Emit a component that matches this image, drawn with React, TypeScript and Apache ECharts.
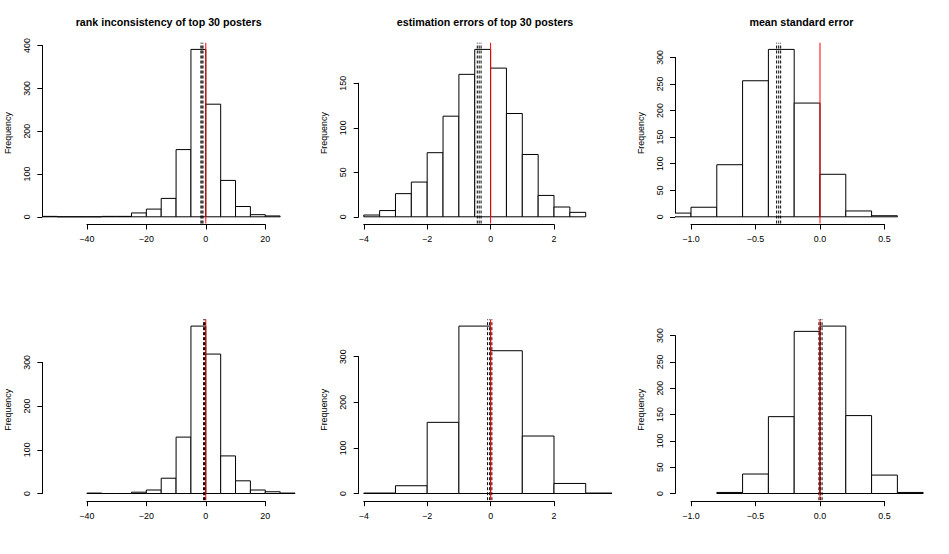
import React, { useEffect, useRef } from "react";
import * as echarts from "echarts";

// ---------- data ----------
const titles = ["rank inconsistency of top 30 posters", "estimation errors of top 30 posters", "mean standard error"];

const rankTopBreaks = [-55, -50, -45, -40, -35, -30, -25, -20, -15, -10, -5, 0, 5, 10, 15, 20, 25];
const rankTopCounts = [1, 0, 0, 0, 1, 1, 9, 18, 43, 157, 391, 263, 85, 24, 5, 2];
const estTopBreaks = [-4, -3.5, -3, -2.5, -2, -1.5, -1, -0.5, 0, 0.5, 1, 1.5, 2, 2.5, 3];
const estTopCounts = [2, 7, 26, 39, 72, 113, 160, 188, 167, 116, 70, 24, 11, 5];
const mseTopBreaks = [-1.2, -1.0, -0.8, -0.6, -0.4, -0.2, 0, 0.2, 0.4, 0.6];
const mseTopCounts = [7, 18, 98, 256, 315, 214, 80, 11, 2];

const rankBotBreaks = [-40, -35, -30, -25, -20, -15, -10, -5, 0, 5, 10, 15, 20, 25, 30];
const rankBotCounts = [1, 0, 0, 3, 8, 35, 129, 383, 319, 86, 29, 8, 4, 1];
const estBotBreaks = [-4, -3, -2, -1, 0, 1, 2, 3, 4];
const estBotCounts = [1, 17, 156, 367, 313, 126, 22, 1];
const mseBotBreaks = [-0.8, -0.6, -0.4, -0.2, 0, 0.2, 0.4, 0.6, 0.8];
const mseBotCounts = [2, 37, 146, 308, 318, 148, 35, 2];

// dashed reference lines (black) and the red reference value
const rankTopLines = [-1.65, -1.3, -0.95];
const estTopLines = [-0.42, -0.36, -0.3];
const mseTopLines = [-0.336, -0.32, -0.305];
const rankBotLines = [-0.75, -0.45, -0.15];
const estBotLines = [-0.095, -0.03, 0.04];
const mseBotLines = [-0.008, 0.004, 0.016];
const redValue = 0;

// axis ticks
const rankXTicks = [-40, -20, 0, 20];
const estXTicks = [-4, -2, 0, 2];
const mseXTicks = [-1.0, -0.5, 0.0, 0.5];
const rankTopYTicks = [0, 100, 200, 300, 400];
const estTopYTicks = [0, 50, 100, 150];
const mseTopYTicks = [0, 50, 100, 150, 200, 250, 300];
const rankBotYTicks = [0, 100, 200, 300];
const estBotYTicks = [0, 100, 200, 300];
const mseBotYTicks = [0, 50, 100, 150, 200, 250, 300];

// x limits of each column
const rankXLim = [-55, 30];
const estXLim = [-4.16, 3.81];
const mseXLim = [-1.124, 0.835];

// ---------- layout ----------
const colLeft = [42.3, 358.7, 675];
const plotW = 252.7;
const rowTop = [42.7, 319.4];
const plotH = 180.8;
const FONT = "'Liberation Sans', Arial, Helvetica, sans-serif";
const FS = 8.9;

type Panel = {
  row: number;
  col: number;
  breaks: number[];
  counts: number[];
  lines: number[];
  xTicks: number[];
  yTicks: number[];
  xLim: number[];
  decimals: number;
};

const panels: Panel[] = [
  { row: 0, col: 0, breaks: rankTopBreaks, counts: rankTopCounts, lines: rankTopLines, xTicks: rankXTicks, yTicks: rankTopYTicks, xLim: rankXLim, decimals: 0 },
  { row: 0, col: 1, breaks: estTopBreaks, counts: estTopCounts, lines: estTopLines, xTicks: estXTicks, yTicks: estTopYTicks, xLim: estXLim, decimals: 0 },
  { row: 0, col: 2, breaks: mseTopBreaks, counts: mseTopCounts, lines: mseTopLines, xTicks: mseXTicks, yTicks: mseTopYTicks, xLim: mseXLim, decimals: 1 },
  { row: 1, col: 0, breaks: rankBotBreaks, counts: rankBotCounts, lines: rankBotLines, xTicks: rankXTicks, yTicks: rankBotYTicks, xLim: rankXLim, decimals: 0 },
  { row: 1, col: 1, breaks: estBotBreaks, counts: estBotCounts, lines: estBotLines, xTicks: estXTicks, yTicks: estBotYTicks, xLim: estXLim, decimals: 0 },
  { row: 1, col: 2, breaks: mseBotBreaks, counts: mseBotCounts, lines: mseBotLines, xTicks: mseXTicks, yTicks: mseBotYTicks, xLim: mseXLim, decimals: 1 },
];

const fmt = (v: number, d: number) => {
  const s = d > 0 ? v.toFixed(d) : String(Math.round(v));
  return s.replace("-", "\u2212");
};

function buildOption() {
  const grid: any[] = [];
  const xAxis: any[] = [];
  const yAxis: any[] = [];
  const series: any[] = [];

  panels.forEach((p) => {
    const M = Math.max(...p.counts);
    const yMin = -0.04 * M;
    const yMax = 1.04 * M;
    const [xMin, xMax] = p.xLim;
    const left = colLeft[p.col];
    const top = rowTop[p.row];
    const pxX = (v: number) => left + (plotW * (v - xMin)) / (xMax - xMin);
    const pxY = (v: number) => top + (plotH * (yMax - v)) / (yMax - yMin);

    // main plot grid
    const gMain = grid.length;
    grid.push({ left, top, width: plotW, height: plotH });
    const xMainIdx = xAxis.length;
    xAxis.push({ gridIndex: gMain, type: "value", min: xMin, max: xMax, show: false });
    const yMainIdx = yAxis.length;
    yAxis.push({
      gridIndex: gMain,
      type: "value",
      min: yMin,
      max: yMax,
      axisLine: { show: false },
      axisTick: { show: false },
      axisLabel: { show: false },
      splitLine: { show: false },
      name: "Frequency",
      nameLocation: "middle",
      nameRotate: 90,
      nameGap: 30,
      nameTextStyle: { fontSize: FS, fontFamily: FONT, color: "#000" },
    });

    // x axis (R style: line spans first..last tick)
    const xf = p.xTicks[0];
    const xl = p.xTicks[p.xTicks.length - 1];
    const gX = grid.length;
    grid.push({ left: pxX(xf), width: pxX(xl) - pxX(xf), top: top + plotH, height: 1 });
    xAxis.push({
      gridIndex: gX,
      type: "value",
      min: xf,
      max: xl,
      interval: p.xTicks[1] - p.xTicks[0],
      position: "bottom",
      axisLine: { show: true, lineStyle: { color: "#000", width: 1 } },
      axisTick: { show: true, inside: false, length: 5, lineStyle: { color: "#000", width: 1 } },
      axisLabel: {
        show: true,
        margin: 10,
        fontSize: FS,
        fontFamily: FONT,
        color: "#000",
        showMinLabel: true,
        showMaxLabel: true,
        formatter: (v: number) => fmt(v, p.decimals),
      },
      splitLine: { show: false },
    });
    yAxis.push({ gridIndex: gX, type: "value", show: false, min: 0, max: 1 });

    // y axis (R style: line spans 0..max tick)
    const yl = p.yTicks[p.yTicks.length - 1];
    const gY = grid.length;
    grid.push({ left, width: 1, top: pxY(yl), height: pxY(0) - pxY(yl) });
    xAxis.push({ gridIndex: gY, type: "value", show: false, min: 0, max: 1 });
    yAxis.push({
      gridIndex: gY,
      type: "value",
      min: 0,
      max: yl,
      interval: p.yTicks[1] - p.yTicks[0],
      position: "left",
      axisLine: { show: true, lineStyle: { color: "#000", width: 1 } },
      axisTick: { show: true, inside: false, length: 5, lineStyle: { color: "#000", width: 1 } },
      axisLabel: {
        show: true,
        rotate: 90,
        margin: 11,
        fontSize: FS,
        fontFamily: FONT,
        color: "#000",
        showMinLabel: true,
        showMaxLabel: true,
      },
      splitLine: { show: false },
    });

    // histogram bars
    const data = p.counts.map((c, i) => [p.breaks[i], p.breaks[i + 1], c]);
    series.push({
      type: "custom",
      xAxisIndex: xMainIdx,
      yAxisIndex: yMainIdx,
      clip: true,
      encode: { x: [0, 1], y: 2 },
      data,
      renderItem: (params: any, api: any) => {
        const a = api.coord([api.value(0), api.value(2)]);
        const b = api.coord([api.value(1), 0]);
        return {
          type: "rect",
          shape: { x: a[0], y: a[1], width: b[0] - a[0], height: b[1] - a[1] },
          style: { fill: "#fff", stroke: "#000", lineWidth: 1 },
        };
      },
    });

    // dashed black reference lines
    p.lines.forEach((v) => {
      series.push({
        type: "line",
        xAxisIndex: xMainIdx,
        yAxisIndex: yMainIdx,
        symbol: "none",
        silent: true,
        data: [
          [v, yMin],
          [v, yMax],
        ],
        lineStyle: { color: "#000", width: 1, type: [3, 2] },
      });
    });

    // red reference line
    series.push({
      type: "line",
      xAxisIndex: xMainIdx,
      yAxisIndex: yMainIdx,
      symbol: "none",
      silent: true,
      data: [
        [redValue, yMin],
        [redValue, yMax],
      ],
      lineStyle: { color: "#ff0000", width: 1 },
    });
  });

  const title = titles.map((t, i) => ({
    text: t,
    left: colLeft[i] + plotW / 2,
    top: 16.5,
    textAlign: "center",
    padding: 0,
    textStyle: { fontSize: 10.7, fontWeight: "bold", fontFamily: FONT, color: "#000" },
  }));

  return {
    animation: false,
    backgroundColor: "#fff",
    title,
    grid,
    xAxis,
    yAxis,
    series,
  };
}

export default function App() {
  const ref = useRef<HTMLDivElement>(null);
  useEffect(() => {
    if (!ref.current) return;
    const chart = echarts.init(ref.current, undefined, { renderer: "svg" });
    chart.setOption(buildOption() as any);
    return () => chart.dispose();
  }, []);
  return (
    <div
      ref={ref}
      style={{ position: "fixed", left: 0, top: 0, width: 949, height: 554, background: "#fff" }}
    />
  );
}
